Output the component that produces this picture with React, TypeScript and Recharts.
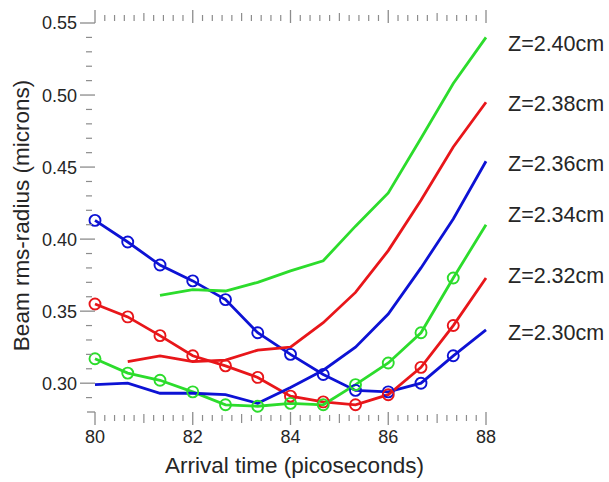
import { LineChart, Line, XAxis, YAxis, ReferenceLine } from 'recharts';

// arrival time samples (ps)
const TIMES = [80, 80.67, 81.33, 82, 82.67, 83.33, 84, 84.67, 85.33, 86, 86.67, 87.33, 88];

// beam rms-radius (microns) per axial position; null = no sample
const Z230 = [0.413, 0.398, 0.382, 0.371, 0.358, 0.335, 0.32, 0.306, 0.295, 0.294, 0.3, 0.319, 0.337];
const Z232 = [0.355, 0.346, 0.333, 0.319, 0.312, 0.304, 0.291, 0.287, 0.285, 0.292, 0.311, 0.34, 0.373];
const Z234 = [0.317, 0.307, 0.302, 0.294, 0.285, 0.284, 0.286, 0.285, 0.299, 0.314, 0.335, 0.373, 0.41];
const Z236 = [0.299, 0.3, 0.293, 0.293, 0.292, 0.286, 0.297, 0.309, 0.325, 0.348, 0.38, 0.414, 0.454];
const Z238 = [null, 0.315, 0.319, 0.315, 0.316, 0.323, 0.325, 0.342, 0.363, 0.392, 0.427, 0.464, 0.495];
const Z240 = [null, null, 0.361, 0.365, 0.364, 0.37, 0.378, 0.385, 0.409, 0.432, 0.47, 0.508, 0.54];

// right-hand labels and where they sit on the y scale
const Z_LABELS = ['Z=2.40cm', 'Z=2.38cm', 'Z=2.36cm', 'Z=2.34cm', 'Z=2.32cm', 'Z=2.30cm'];
const Z_LABEL_Y = [0.536, 0.494, 0.4523, 0.417, 0.375, 0.335];

const X_MAJOR = [80, 82, 84, 86, 88];
const Y_MAJOR = [0.3, 0.35, 0.4, 0.45, 0.5, 0.55];

const X_TICKS = Array.from({ length: 41 }, (_, i) => Math.round((80 + i * 0.2) * 10) / 10);
const Y_TICKS = Array.from({ length: 28 }, (_, i) => Math.round((0.28 + i * 0.01) * 100) / 100);

const BLUE = '#0d12d4';
const RED = '#e8161a';
const GREEN = '#2cdc2c';
const TICK = '#8c8c8c';
const TEXT = '#262626';
const FONT = '"Liberation Sans", Arial, sans-serif';

// frame edges in px (plot box), used only for tick decorations
const LEFT = 95;
const RIGHT = 486;
const TOP = 23;
const BOTTOM = 412;

const series = [
  { key: 'z230', values: Z230, color: BLUE, marks: true },
  { key: 'z232', values: Z232, color: RED, marks: true },
  { key: 'z234', values: Z234, color: GREEN, marks: true },
  { key: 'z236', values: Z236, color: BLUE, marks: false },
  { key: 'z238', values: Z238, color: RED, marks: false },
  { key: 'z240', values: Z240, color: GREEN, marks: false }
];

const data = TIMES.map((t, i) => {
  const row: Record<string, number | null> = { t };
  for (const s of series) row[s.key] = s.values[i];
  return row;
});

const isMajorX = (v: number) => X_MAJOR.includes(v);
const isMajorY = (v: number) => Y_MAJOR.some((m) => Math.abs(m - v) < 1e-6);

function BottomTick(props: any) {
  const { x, payload } = props;
  const v = payload.value as number;
  if (isMajorX(v)) {
    return (
      <g>
        <line x1={x} x2={x} y1={BOTTOM} y2={BOTTOM + 13} stroke={TICK} strokeWidth={1.3} />
        <text x={x} y={443} textAnchor="middle" fontSize={18} fontFamily={FONT} fill={TEXT}>
          {v}
        </text>
      </g>
    );
  }
  const mid = Number.isInteger(v);
  return <line x1={x} x2={x} y1={BOTTOM + (mid ? 2 : 3)} y2={BOTTOM + (mid ? 11 : 9)} stroke={TICK} strokeWidth={1.2} />;
}

function TopTick(props: any) {
  const { x, payload } = props;
  const v = payload.value as number;
  if (isMajorX(v)) return <line x1={x} x2={x} y1={TOP - 13} y2={TOP} stroke={TICK} strokeWidth={1.3} />;
  const mid = Number.isInteger(v);
  return <line x1={x} x2={x} y1={TOP - (mid ? 10 : 8)} y2={TOP - 2} stroke={TICK} strokeWidth={1.2} />;
}

function LeftTick(props: any) {
  const { y, payload } = props;
  const v = payload.value as number;
  if (isMajorY(v)) {
    return (
      <g>
        <line x1={LEFT - 15} x2={LEFT} y1={y} y2={y} stroke={TICK} strokeWidth={1.3} />
        <text x={77} y={y} dy="0.36em" textAnchor="end" fontSize={18} fontFamily={FONT} fill={TEXT}>
          {v.toFixed(2)}
        </text>
      </g>
    );
  }
  if (v === 0.28) return <line x1={LEFT - 8} x2={LEFT} y1={y} y2={y} stroke={TICK} strokeWidth={1.3} />;
  return <line x1={LEFT - 9} x2={LEFT - 3} y1={y} y2={y} stroke={TICK} strokeWidth={1.2} />;
}

function RightTick(props: any) {
  const { y, payload } = props;
  const v = payload.value as number;
  if (isMajorY(v) || v === 0.28) return <line x1={RIGHT} x2={RIGHT + 10} y1={y} y2={y} stroke={TICK} strokeWidth={1.3} />;
  return <line x1={RIGHT + 2} x2={RIGHT + 9} y1={y} y2={y} stroke={TICK} strokeWidth={1.2} />;
}

function ringDot(color: string) {
  return (props: any) => {
    const { cx, cy, index } = props;
    if (index === TIMES.length - 1 || cy == null) return <g key={`e-${index}`} />;
    return <circle key={`c-${index}`} cx={cx} cy={cy} r={5.5} fill="none" stroke={color} strokeWidth={1.9} />;
  };
}

export default function App() {
  return (
    <div style={{ position: 'absolute', left: 0, top: 0, width: 609, height: 482, background: '#fff' }}>
      <LineChart width={609} height={482} data={data} margin={{ top: 0, right: 0, bottom: 0, left: 0 }}>
        <XAxis
          dataKey="t"
          type="number"
          domain={[80, 88]}
          ticks={X_TICKS}
          interval={0}
          height={70}
          axisLine={false}
          tickLine={false}
          tick={BottomTick}
          label={{
            content: (p: any) => (
              <text
                x={p.viewBox.x + p.viewBox.width / 2 + 4}
                y={473}
                textAnchor="middle"
                fontSize={22.5}
                fontFamily={FONT}
                fill={TEXT}
              >
                Arrival time (picoseconds)
              </text>
            )
          }}
        />
        <XAxis
          xAxisId="top"
          orientation="top"
          dataKey="t"
          type="number"
          domain={[80, 88]}
          ticks={X_TICKS}
          interval={0}
          height={TOP}
          axisLine={false}
          tickLine={false}
          tick={TopTick}
        />
        <YAxis
          type="number"
          domain={[0.28, 0.55]}
          ticks={Y_TICKS}
          interval={0}
          width={LEFT}
          axisLine={false}
          tickLine={false}
          tick={LeftTick}
          label={{
            content: (p: any) => {
              const cy = p.viewBox.y + p.viewBox.height / 2 - 2;
              return (
                <text
                  x={29}
                  y={cy}
                  transform={`rotate(-90 29 ${cy})`}
                  textAnchor="middle"
                  fontSize={22.5}
                  fontFamily={FONT}
                  fill={TEXT}
                >
                  Beam rms-radius (microns)
                </text>
              );
            }
          }}
        />
        <YAxis
          yAxisId="right"
          orientation="right"
          type="number"
          domain={[0.28, 0.55]}
          ticks={Y_TICKS}
          interval={0}
          width={609 - RIGHT}
          axisLine={false}
          tickLine={false}
          tick={RightTick}
        />
        {Z_LABELS.map((name, i) => (
          <ReferenceLine
            key={name}
            y={Z_LABEL_Y[i]}
            stroke="none"
            label={{
              value: name,
              position: 'right',
              offset: 22,
              fontSize: 21.5,
              fontFamily: FONT,
              fill: TEXT
            }}
          />
        ))}
        {series.map((s) => (
          <Line
            key={s.key}
            dataKey={s.key}
            type="linear"
            stroke={s.color}
            strokeWidth={2.8}
            dot={s.marks ? ringDot(s.color) : false}
            activeDot={false}
            connectNulls={false}
            isAnimationActive={false}
          />
        ))}
      </LineChart>
    </div>
  );
}
